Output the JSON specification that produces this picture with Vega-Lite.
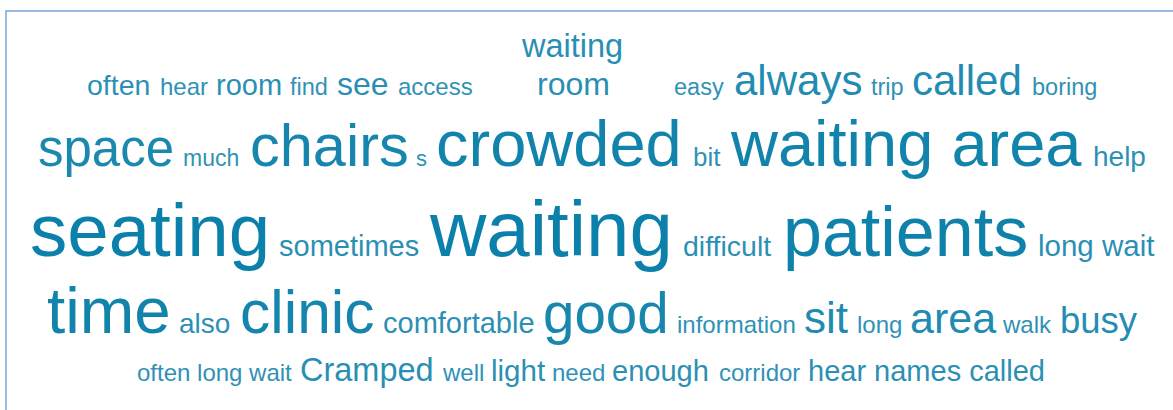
{
  "$schema": "https://vega.github.io/schema/vega-lite/v6.json",
  "width": 1180,
  "height": 410,
  "autosize": "none",
  "padding": {"left": 6, "top": 11, "right": 0, "bottom": 0},
  "background": "white",
  "config": {"view": {"stroke": "#79a6dc", "strokeWidth": 1.5}},
  "data": {"values": [
    {"word": "waiting", "weight": 32.5, "col": 522, "row": 57},
    {"word": "often", "weight": 28.5, "col": 87, "row": 95},
    {"word": "hear", "weight": 24, "col": 160, "row": 95},
    {"word": "room", "weight": 29, "col": 216, "row": 95},
    {"word": "find", "weight": 23.5, "col": 290, "row": 95},
    {"word": "see", "weight": 32, "col": 337, "row": 95},
    {"word": "access", "weight": 24, "col": 398, "row": 95},
    {"word": "room", "weight": 32, "col": 537, "row": 95},
    {"word": "easy", "weight": 23.5, "col": 674, "row": 95},
    {"word": "always", "weight": 42, "col": 734, "row": 95},
    {"word": "trip", "weight": 23.5, "col": 871, "row": 95},
    {"word": "called", "weight": 42, "col": 912, "row": 95},
    {"word": "boring", "weight": 23.5, "col": 1032, "row": 95},
    {"word": "space", "weight": 51, "col": 38, "row": 166},
    {"word": "much", "weight": 23, "col": 183, "row": 166},
    {"word": "chairs", "weight": 59.5, "col": 250, "row": 166},
    {"word": "s", "weight": 22, "col": 416, "row": 166},
    {"word": "crowded", "weight": 65, "col": 436, "row": 166},
    {"word": "bit", "weight": 26, "col": 693, "row": 166},
    {"word": "waiting area", "weight": 65, "col": 731, "row": 166},
    {"word": "help", "weight": 28, "col": 1093, "row": 166},
    {"word": "seating", "weight": 74.5, "col": 30, "row": 256},
    {"word": "sometimes", "weight": 29, "col": 279, "row": 256},
    {"word": "waiting", "weight": 78, "col": 430, "row": 256},
    {"word": "difficult", "weight": 28.5, "col": 683, "row": 256},
    {"word": "patients", "weight": 70, "col": 783, "row": 256},
    {"word": "long wait", "weight": 29.5, "col": 1038, "row": 256},
    {"word": "time", "weight": 65.5, "col": 47, "row": 333},
    {"word": "also", "weight": 28, "col": 179, "row": 333},
    {"word": "clinic", "weight": 60.5, "col": 240, "row": 333},
    {"word": "comfortable", "weight": 29, "col": 383, "row": 333},
    {"word": "good", "weight": 56.5, "col": 543, "row": 333},
    {"word": "information", "weight": 24, "col": 677, "row": 333},
    {"word": "sit", "weight": 44, "col": 804, "row": 333},
    {"word": "long", "weight": 24, "col": 857, "row": 333},
    {"word": "area", "weight": 43, "col": 910, "row": 333},
    {"word": "walk", "weight": 24, "col": 1003, "row": 333},
    {"word": "busy", "weight": 36.5, "col": 1060, "row": 333},
    {"word": "often long wait", "weight": 24, "col": 137, "row": 381},
    {"word": "Cramped", "weight": 32.5, "col": 300, "row": 381},
    {"word": "well", "weight": 24, "col": 443, "row": 381},
    {"word": "light", "weight": 29.5, "col": 491, "row": 381},
    {"word": "need", "weight": 24, "col": 552, "row": 381},
    {"word": "enough", "weight": 29, "col": 612, "row": 381},
    {"word": "corridor", "weight": 24, "col": 719, "row": 381},
    {"word": "hear names called", "weight": 29, "col": 808, "row": 381}
  ]},
  "mark": {"type": "text", "align": "left", "baseline": "alphabetic", "font": "Liberation Sans", "color": "#0a80aa"},
  "encoding": {
    "x": {"field": "col", "type": "quantitative", "scale": {"domain": [6, 1186], "range": [0, 1180], "nice": false, "zero": false}, "axis": null},
    "y": {"field": "row", "type": "quantitative", "scale": {"domain": [11, 421], "range": [0, 410], "nice": false, "zero": false}, "axis": null},
    "text": {"field": "word"},
    "size": {"field": "weight", "type": "quantitative", "scale": {"type": "linear", "domain": [0, 100], "range": [0, 100], "zero": true}, "legend": null},
    "opacity": {"field": "weight", "type": "quantitative", "scale": {"domain": [22, 78], "range": [0.85, 1]}, "legend": null}
  }
}
